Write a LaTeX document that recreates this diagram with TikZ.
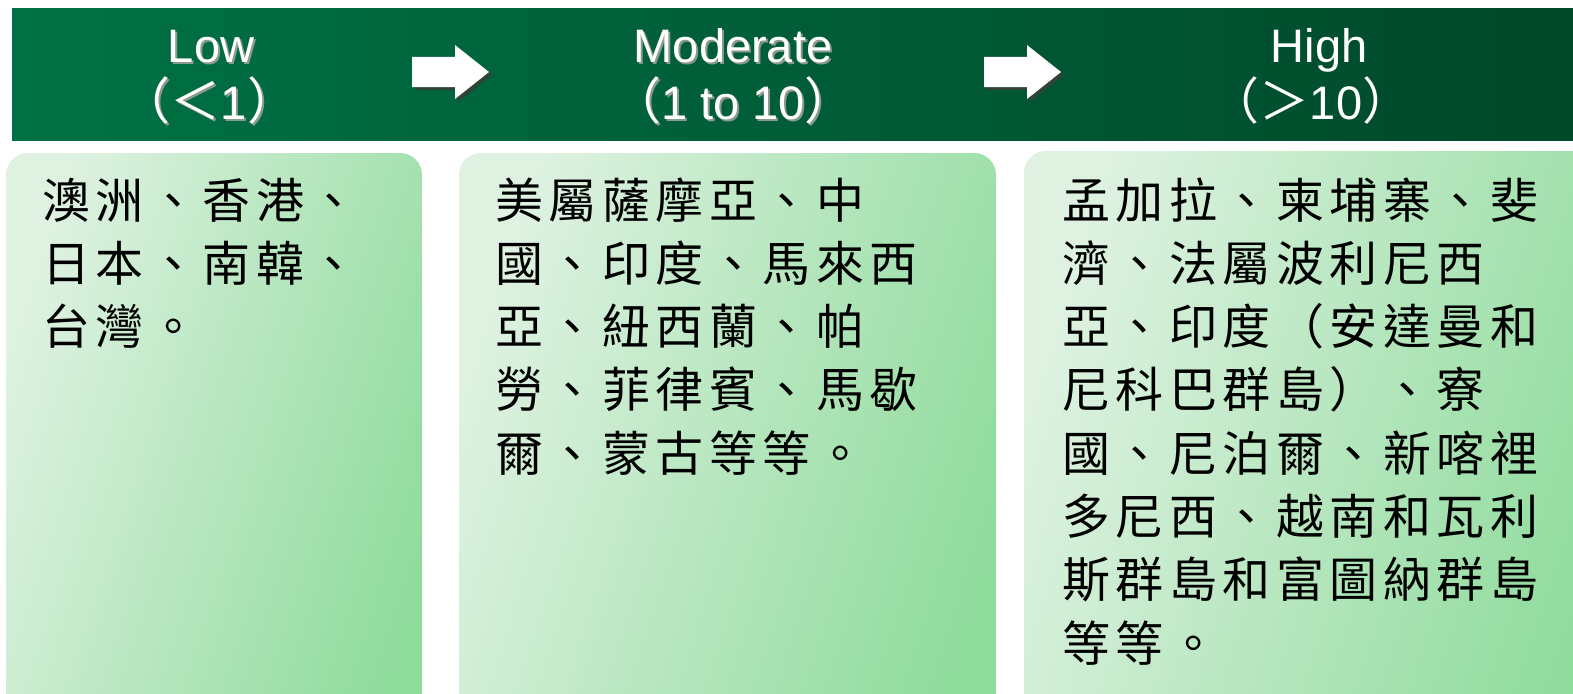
\documentclass[tikz,border=0pt]{standalone}
\usepackage{fontspec}
\setmainfont{Liberation Sans}
\newfontfamily\cjk{Noto Sans CJK TC}
\newfontfamily\cjkbody[LetterSpace=11.5]{Noto Sans CJK TC}
\definecolor{bannerL}{HTML}{007144}
\definecolor{bannerR}{HTML}{00482A}
\definecolor{boxL}{HTML}{DFF2E2}
\definecolor{boxR}{HTML}{8FDB9C}
\definecolor{arrowshadow}{HTML}{2E4436}
\definecolor{txtshadow}{HTML}{8A9A90}
\tikzset{
  head/.style={font=\fontsize{47}{47}\selectfont, text=white, inner sep=0, anchor=base},
  headshadow/.style={head, text=txtshadow},
  body/.style={font=\cjkbody\fontsize{48}{48}\selectfont, text=black, inner sep=0, anchor=base west},
  boxshade/.style={left color=boxL, right color=boxR, shading angle=72, rounded corners=22pt},
}
\newcommand{\pf}[1]{{\cjk\fontsize{50}{50}\selectfont #1}}
\begin{document}
\begin{tikzpicture}[x=1pt,y=-1pt]
\useasboundingbox (0,0) rectangle (1573,693);
\clip (0,0) rectangle (1573,693);
\fill[white] (0,0) rectangle (1573,693);
% banner
\shade[left color=bannerL, right color=bannerR] (12,9) rectangle (1590,140);
% boxes
\shade[boxshade] (6,760) -- (6,153) -- (422,153) -- (422,760) -- cycle;
\shade[boxshade] (459,760) -- (459,153) -- (996,153) -- (996,760) -- cycle;
\shade[boxshade] (1024,760) -- (1024,151) -- (1620,151) -- (1620,760) -- cycle;
% block arrows
\foreach \dx/\col in {3/arrowshadow, 0/white}{
  \fill[\col, shift={(\dx,\dx)}] (412,57) -- (455,57) -- (455,45) -- (489,72) -- (455,99) -- (455,87) -- (412,87) -- cycle;
  \fill[\col, shift={(\dx,\dx)}] (984,57) -- (1027,57) -- (1027,45) -- (1061,72) -- (1027,99) -- (1027,87) -- (984,87) -- cycle;
}
% header texts
\node[headshadow] (lowS) at (213,65) {Low};
\node[head] (low) at (211,63) {Low};
\node[headshadow] (lowbS) at (211,121) {\pf{（}\pf{＜}1\pf{）}};
\node[head] (lowb) at (209,119) {\pf{（}\pf{＜}1\pf{）}};
\node[headshadow] (modS) at (735,65) {Moderate};
\node[head] (mod) at (733,63) {Moderate};
\node[headshadow] (modbS) at (735,121) {\pf{（}1 to 10\pf{）}};
\node[head] (modb) at (733,119) {\pf{（}1 to 10\pf{）}};
\node[head] (high) at (1319,63) {High};
\node[head] (highb) at (1311,119) {\pf{（}\pf{＞}10\pf{）}};
% box 1
\node[body] (a1) at (42,218) {澳洲、香港、};
\node[body] (a2) at (42,281.3) {日本、南韓、};
\node[body] (a3) at (42,344.6) {台灣。};
% box 2
\node[body] (b1) at (495,218) {美屬薩摩亞、中};
\node[body] (b2) at (495,281.3) {國、印度、馬來西};
\node[body] (b3) at (495,344.6) {亞、紐西蘭、帕};
\node[body] (b4) at (495,407.9) {勞、菲律賓、馬歇};
\node[body] (b5) at (495,471.2) {爾、蒙古等等。};
% box 3
\node[body] (c1) at (1062,218) {孟加拉、柬埔寨、斐};
\node[body] (c2) at (1062,281.3) {濟、法屬波利尼西};
\node[body] (c3) at (1062,344.6) {亞、印度（安達曼和};
\node[body] (c4) at (1062,407.9) {尼科巴群島）、寮};
\node[body] (c5) at (1062,471.2) {國、尼泊爾、新喀裡};
\node[body] (c6) at (1062,534.5) {多尼西、越南和瓦利};
\node[body] (c7) at (1062,597.8) {斯群島和富圖納群島};
\node[body] (c8) at (1062,661.1) {等等。};
\end{tikzpicture}
\end{document}
